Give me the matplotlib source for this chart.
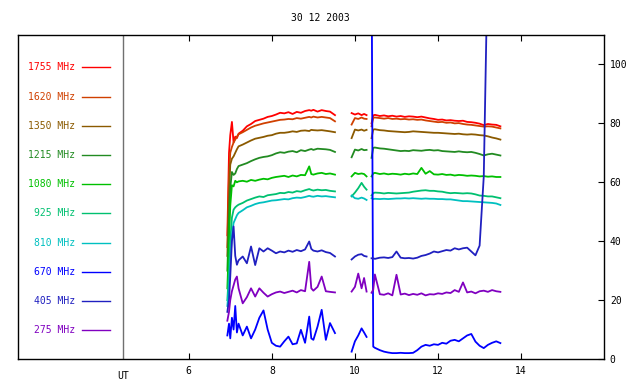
import matplotlib
matplotlib.use('Agg')
import matplotlib.pyplot as plt
import numpy as np

plt.rcParams['font.family'] = ['DejaVu Sans Mono']
plt.rcParams['font.size'] = 7

# время, UT (три куска записи, между ними пропуски)
t_seg1 = [6.93, 6.97, 7.00, 7.04, 7.08, 7.12, 7.16, 7.20, 7.30, 7.40, 7.50, 7.60, 7.70, 7.80,
          7.90, 8.00, 8.10, 8.20, 8.30, 8.40, 8.50, 8.60, 8.70, 8.80, 8.90, 8.95, 9.00, 9.10,
          9.20, 9.30, 9.40, 9.52]
t_seg2 = [9.92, 10.00, 10.08, 10.16, 10.22, 10.28]
t_seg3 = [10.40, 10.44, 10.48, 10.6, 10.7, 10.8, 10.9, 11.0, 11.1, 11.2, 11.3, 11.4, 11.5, 11.6,
          11.7, 11.8, 11.9, 12.0, 12.1, 12.2, 12.3, 12.4, 12.5, 12.6, 12.7, 12.8, 12.9, 13.0,
          13.1, 13.2, 13.3, 13.4, 13.5]

labels = ['1755 MHz', '1620 MHz', '1350 MHz', '1215 MHz', '1080 MHz',
          '925 MHz', '810 MHz', '670 MHz', '405 MHz', '275 MHz']
colors = ['#ff0000', '#d04000', '#8b5a00', '#228b22', '#00c000',
          '#00c070', '#00c0c0', '#0000ff', '#2020c0', '#8000c0']

f1755 = ([42, 70, 76, 80.5, 73.5, 75.5, 75, 76.5, 77.5, 79, 79.8, 80.8, 81.2, 81.6, 82.2, 82.5,
          83.0, 83.6, 83.4, 83.8, 83.2, 83.9, 83.6, 84.2, 84.5, 84.3, 84.6, 84.0, 84.5, 84.2, 84.0, 82.8],
         [83.5, 83.0, 83.4, 82.8, 83.2, 82.8],
         [80.0, 82.7, 82.9, 82.5, 82.7, 82.4, 82.6, 82.3, 82.5, 82.2, 82.4, 82.3, 82.1, 82.3, 82.0,
          81.7, 81.5, 81.2, 81.3, 81.0, 81.1, 80.9, 80.8, 80.9, 80.5, 80.4, 80.2, 79.9, 79.4, 79.8,
          79.6, 79.5, 79.0])
f1620 = ([38, 62, 70, 72, 73.5, 74.5, 75.5, 76.3, 77.0, 77.8, 78.6, 79.2, 79.6, 80.0, 80.3, 80.6,
          80.9, 81.2, 81.3, 81.5, 81.4, 81.8, 81.6, 81.9, 82.2, 82.0, 82.3, 82.0, 82.2, 82.0, 81.8, 80.7],
         [79.6, 81.8, 81.5, 82.0, 81.6, 81.5],
         [79.0, 81.9, 82.0, 81.8, 81.6, 81.8, 81.5, 81.6, 81.4, 81.5, 81.3, 81.4, 81.2, 81.3, 81.0,
          80.8, 80.6, 80.4, 80.5, 80.2, 80.3, 80.0, 80.1, 79.8, 79.6, 79.5, 79.3, 79.1, 78.9, 79.0,
          78.9, 78.6, 78.3])
f1350 = ([35, 55, 66, 68, 68.8, 70, 71.2, 72.2, 72.8, 73.5, 74.2, 74.8, 75.1, 75.4, 75.8, 76.0,
          76.5, 76.8, 76.8, 77.0, 77.3, 77.1, 77.5, 77.6, 77.4, 77.8, 77.7, 77.6, 77.7, 77.5, 77.3, 77.0],
         [75.0, 77.9, 77.6, 77.9, 77.5, 77.8],
         [75.0, 77.9, 78.0, 77.7, 77.6, 77.4, 77.3, 77.2, 77.1, 77.0, 77.1, 77.3, 77.2, 77.1, 77.0,
          76.9, 76.8, 76.8, 76.7, 76.6, 76.5, 76.4, 76.5, 76.3, 76.2, 76.3, 76.2, 76.0, 75.9, 75.6,
          75.2, 74.9, 74.5])
f1215 = ([30, 48, 58, 63.5, 62.5, 63, 64.5, 65.5, 66, 66.5, 67.2, 67.8, 68.3, 68.6, 68.8, 69.2,
          69.8, 70.2, 70.0, 70.4, 70.6, 70.2, 70.9, 70.6, 71.1, 71.3, 71.0, 71.4, 71.3, 71.2, 71.0, 70.3],
         [68.5, 71.1, 70.8, 71.3, 70.9, 71.0],
         [68.3, 71.7, 71.8, 71.5, 71.4, 71.2, 71.0, 70.8, 70.6, 70.7, 70.6, 70.9, 70.8, 70.7, 70.9,
          71.0, 70.8, 70.9, 70.6, 70.5, 70.4, 70.3, 70.5, 70.3, 70.2, 70.3, 70.0, 69.6, 69.1, 69.5,
          69.7, 69.4, 69.1])
f1080 = ([24, 40, 52, 59, 58.6, 60.5, 60.0, 60.3, 60.5, 60.2, 60.8, 60.5, 60.9, 61.2, 61.0, 61.5,
          61.8, 62.0, 62.2, 61.8, 62.3, 62.0, 62.5, 62.4, 65.4, 62.8, 62.6, 63.0, 63.2, 62.8, 63.0, 62.6],
         [62.0, 63.2, 62.8, 63.0, 62.8, 62.0],
         [62.0, 63.0, 63.2, 62.8, 63.0, 62.7, 62.9, 62.8, 62.6, 62.9, 62.7, 63.0, 62.8, 64.9, 62.9,
          63.8, 62.7, 62.6, 62.8, 62.5, 62.6, 62.3, 62.5, 62.4, 62.2, 62.3, 62.2, 62.0, 62.1, 61.9,
          62.0, 61.8, 61.8])
f925 = ([20, 30, 40, 48, 50.7, 51.5, 52.0, 52.4, 53.0, 53.8, 54.3, 54.8, 55.2, 55.0, 55.6, 55.8,
         56.0, 56.4, 56.3, 56.7, 56.5, 57.0, 56.8, 57.3, 57.7, 57.4, 57.2, 57.5, 57.3, 57.4, 57.1, 56.9],
        [55.2, 56.5, 58.0, 59.8, 58.5, 57.5],
        [55.5, 56.3, 56.5, 56.4, 56.2, 56.4, 56.3, 56.2, 56.3, 56.4, 56.5, 56.8, 57.0, 57.2, 57.3,
         57.1, 57.1, 56.9, 56.8, 56.5, 56.3, 56.4, 56.3, 56.2, 56.3, 56.2, 55.9, 55.5, 55.4, 55.2,
         55.2, 54.9, 54.6])
f810 = ([18, 25, 33, 42, 46.2, 47.5, 48.8, 49.6, 50.5, 51.5, 52.0, 52.6, 53.0, 53.2, 53.5, 53.8,
         53.9, 54.1, 54.3, 54.2, 54.6, 54.8, 54.7, 55.0, 55.4, 55.2, 55.1, 55.4, 55.2, 55.3, 55.1, 54.9],
        [55.5, 54.6, 54.4, 54.8, 54.5, 54.0],
        [54.6, 54.3, 54.4, 54.3, 54.4, 54.3, 54.4, 54.5, 54.5, 54.6, 54.5, 54.6, 54.5, 54.4, 54.5,
         54.4, 54.4, 54.3, 54.3, 54.2, 54.2, 54.0, 53.8, 53.6, 53.6, 53.5, 53.4, 53.3, 53.2, 53.1,
         53.0, 52.8, 52.3])
f670 = ([8, 12, 7, 14, 10, 18, 9, 12, 8, 11, 7, 10, 14, 16.5, 10, 5.5, 4.5, 4.2, 6.0, 7.6, 5.0,
         5.3, 9.9, 5.5, 14.4, 7.0, 6.5, 11.0, 16.7, 6.5, 12.2, 8.8],
        [2.5, 6.0, 8.0, 10.4, 9.0, 7.5],
        [140, 4.2, 3.8, 3.0, 2.5, 2.2, 2.0, 2.0, 2.1, 2.0, 2.0, 2.1, 3.0, 4.2, 4.8, 4.5, 5.0, 4.8,
         5.5, 5.2, 6.2, 6.5, 6.0, 7.0, 8.0, 8.5, 5.9, 4.5, 3.7, 4.8, 5.5, 6.0, 5.4])
f405 = ([16, 20, 28, 40, 45, 35, 32, 33.5, 34.8, 32.5, 38.2, 31.9, 37.6, 36.5, 37.6, 36.8, 35.9,
         36.5, 36.2, 36.8, 36.4, 37.0, 36.6, 37.2, 39.9, 37.4, 36.8, 36.5, 36.9, 36.3, 36.0, 34.8],
        [33.8, 34.8, 35.4, 35.6, 35.0, 34.8],
        [34.2, 34.2, 34.0, 34.4, 34.5, 34.3, 34.6, 36.5, 34.4, 34.2, 34.3, 34.1, 34.4, 35.0, 35.3,
         35.8, 36.5, 36.2, 36.6, 37.0, 36.8, 37.6, 37.2, 37.6, 37.8, 36.5, 35.2, 38.5, 62.0, 140,
         140, 140, 140])
f275 = ([13, 16, 20, 23, 25, 27, 28, 24, 18.9, 21, 24, 21.2, 24, 22.5, 21.2, 22.0, 22.6, 22.9,
         22.4, 22.8, 23.2, 22.6, 23.4, 23.0, 33.0, 24.0, 23.2, 24.5, 28.0, 23.0, 22.8, 22.6],
        [22.9, 24.5, 29.0, 24.0, 27.5, 22.9],
        [22.5, 23.5, 28.7, 22.0, 21.8, 22.3, 21.6, 28.6, 21.9, 22.2, 21.7, 22.1, 21.8, 22.3, 21.6,
         22.0, 21.9, 22.3, 22.1, 22.6, 22.4, 23.4, 22.8, 26.0, 22.6, 22.9, 22.3, 23.0, 23.2, 22.8,
         23.4, 23.0, 22.8])

series = [f1755, f1620, f1350, f1215, f1080, f925, f810, f670, f405, f275]


def join(segs):
    out = []
    for i, s in enumerate(segs):
        if i:
            out.append(np.nan)
        out.extend(s)
    return np.array(out, dtype=float)


t_all = join([t_seg1, t_seg2, t_seg3])

fig = plt.figure(figsize=(6.4, 3.84), dpi=100)
ax = fig.add_axes([0.0286, 0.0651, 0.9156, 0.8437])

for s, c in zip(series, colors):
    ax.plot(t_all, join(s), color=c, lw=1.3)

ax.set_xlim(1.9, 16.0)
ax.set_ylim(0, 110)
ax.axvline(4.43, color='#707070', lw=1)

ax.set_xticks([6, 8, 10, 12, 14])
ax.set_yticks([0, 20, 40, 60, 80, 100])
ax.tick_params(axis='x', direction='in', top=True, length=4, pad=5)
ax.tick_params(axis='y', direction='in', left=False, right=True, labelleft=False,
               labelright=True, length=4, pad=4)
for sp in ax.spines.values():
    sp.set_linewidth(1)

ax.text(4.43, -0.037, 'UT', transform=ax.get_xaxis_transform(), ha='center', va='top')

# подписи частот слева
for i, (lab, c) in enumerate(zip(labels, colors)):
    y = 0.900 - i * 0.0901
    ax.text(0.0968, y, lab, transform=ax.transAxes, ha='right', va='center', color=c)
    ax.plot([0.1087, 0.1565], [y, y], transform=ax.transAxes, color=c, lw=1)

fig.text(0.5, 1 - 18 / 384, '30 12 2003', ha='center', va='center')

fig.savefig('out.png', dpi=100)
